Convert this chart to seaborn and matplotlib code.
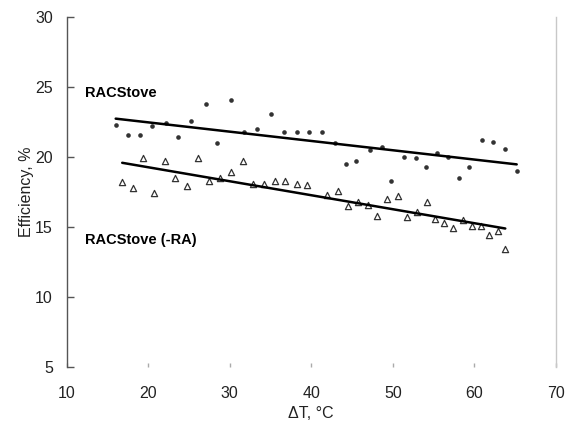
import matplotlib
matplotlib.use("Agg")
import matplotlib.pyplot as plt
import seaborn as sns
import numpy as np
import pandas as pd

# RACStove (filled circles)
rac_dt = [16.0, 17.5, 19.0, 20.5, 22.2, 23.7, 25.2, 27.1, 28.4, 30.2, 31.8, 33.3,
          35.0, 36.6, 38.2, 39.7, 41.3, 42.9, 44.2, 45.5, 47.2, 48.7, 49.8, 51.4,
          52.8, 54.1, 55.4, 56.8, 58.1, 59.4, 61.0, 62.3, 63.8, 65.2]
rac_eff = [22.3, 21.6, 21.6, 22.2, 22.4, 21.4, 22.6, 23.8, 21.0, 24.1, 21.8, 22.0,
           23.1, 21.8, 21.8, 21.8, 21.8, 21.0, 19.5, 19.7, 20.5, 20.7, 18.3, 20.0,
           19.9, 19.3, 20.3, 20.0, 18.5, 19.3, 21.2, 21.1, 20.6, 19.0]

# RACStove (-RA) (open triangles)
ra_dt = [16.8, 18.1, 19.4, 20.7, 22.0, 23.3, 24.8, 26.1, 27.5, 28.8, 30.1, 31.6,
         32.9, 34.2, 35.5, 36.8, 38.2, 39.5, 41.9, 43.3, 44.5, 45.7, 47.0, 48.1,
         49.3, 50.6, 51.8, 53.0, 54.2, 55.2, 56.3, 57.4, 58.6, 59.7, 60.8, 61.8,
         62.9, 63.8]
ra_eff = [18.2, 17.8, 19.9, 17.4, 19.7, 18.5, 17.9, 19.9, 18.3, 18.5, 18.9, 19.7,
          18.1, 18.1, 18.3, 18.3, 18.1, 18.0, 17.3, 17.6, 16.5, 16.8, 16.6, 15.8,
          17.0, 17.2, 15.7, 16.1, 16.8, 15.6, 15.3, 14.9, 15.5, 15.1, 15.1, 14.4,
          14.7, 13.4]

x_ticks = [10, 20, 30, 40, 50, 60, 70]
y_ticks = [5, 10, 15, 20, 25, 30]
series_labels = ["RACStove", "RACStove (-RA)"]

sns.set_style("white")
plt.rcParams['font.family'] = ['Liberation Sans', 'DejaVu Sans']

df1 = pd.DataFrame({"dt": rac_dt, "eff": rac_eff})
df2 = pd.DataFrame({"dt": ra_dt, "eff": ra_eff})

fig = plt.figure(figsize=(5.66, 4.30), dpi=100)
ax = fig.add_axes([0.118, 0.1465, 0.864, 0.814])

sns.regplot(data=df1, x="dt", y="eff", ax=ax, ci=None, truncate=True, marker="o",
            scatter_kws=dict(s=11, color="black", linewidths=0),
            line_kws=dict(color="black", linewidth=1.8))
sns.regplot(data=df2, x="dt", y="eff", ax=ax, ci=None, truncate=True, marker="^",
            scatter_kws=dict(s=20, facecolors="white", edgecolors="black",
                             linewidths=0.9),
            line_kws=dict(color="black", linewidth=1.8))

ax.set_xlim(10, 70)
ax.set_ylim(5, 30)
ax.set_xticks(x_ticks)
ax.set_yticks(y_ticks)
ax.tick_params(axis="both", labelsize=11.5, colors="#222222")
ax.tick_params(axis="y", left=True, direction="in", length=5, color="#555555",
               width=1, pad=10)
ax.tick_params(axis="x", bottom=True, direction="in", length=3, color="#aaaaaa",
               width=1, pad=14)

ax.spines["top"].set_visible(False)
ax.spines["bottom"].set_visible(False)
ax.spines["left"].set_color("#555555")
ax.spines["left"].set_linewidth(1.0)
ax.spines["right"].set_color("#c8c8c8")
ax.spines["right"].set_linewidth(1.0)

ax.set_xlabel("ΔT, °C", fontsize=11.5, color="#222222", labelpad=3)
ax.set_ylabel("Efficiency, %", fontsize=11.5, color="#222222", labelpad=1)

ax.text(12.2, 24.6, series_labels[0], fontsize=10.5, fontweight="bold",
        va="center", ha="left", color="black")
ax.text(12.2, 14.1, series_labels[1], fontsize=10.5, fontweight="bold",
        va="center", ha="left", color="black")

fig.savefig("out.png", dpi=100)
